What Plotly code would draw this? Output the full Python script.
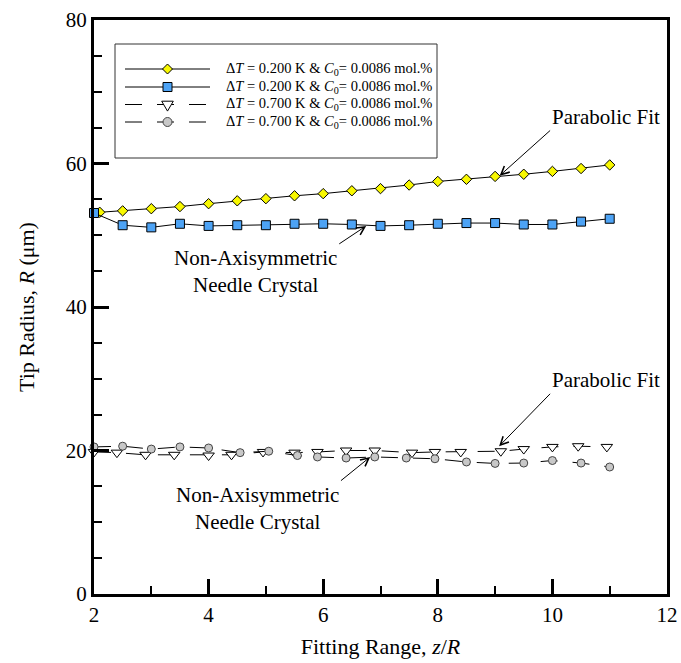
import plotly.graph_objects as go

# ---- data ----
x_dt02_parab = [2.1, 2.5, 3.0, 3.5, 4.0, 4.5, 5.0, 5.5, 6.0, 6.5, 7.0, 7.5, 8.0, 8.5, 9.0, 9.5, 10.0, 10.5, 11.0]
r_dt02_parab = [53.2, 53.4, 53.7, 54.0, 54.4, 54.8, 55.1, 55.5, 55.8, 56.2, 56.5, 57.0, 57.5, 57.8, 58.2, 58.5, 58.9, 59.3, 59.8]

x_dt02_needle = [2.0, 2.5, 3.0, 3.5, 4.0, 4.5, 5.0, 5.5, 6.0, 6.5, 7.0, 7.5, 8.0, 8.5, 9.0, 9.5, 10.0, 10.5, 11.0]
r_dt02_needle = [53.1, 51.4, 51.1, 51.6, 51.3, 51.4, 51.4, 51.6, 51.6, 51.5, 51.3, 51.4, 51.6, 51.7, 51.7, 51.5, 51.5, 51.9, 52.3]

x_dt07_parab = [2.0, 2.4, 2.9, 3.4, 4.0, 4.4, 4.95, 5.5, 5.9, 6.4, 6.9, 7.55, 7.95, 8.4, 9.1, 9.5, 10.0, 10.45, 10.95]
r_dt07_parab = [19.8, 19.7, 19.4, 19.4, 19.3, 19.4, 19.8, 19.7, 19.8, 20.0, 20.0, 19.7, 19.8, 19.8, 19.9, 20.2, 20.5, 20.6, 20.5]

x_dt07_needle = [2.0, 2.5, 3.0, 3.5, 4.0, 4.55, 5.05, 5.55, 5.9, 6.4, 6.9, 7.45, 7.95, 8.5, 9.0, 9.5, 10.0, 10.5, 11.0]
r_dt07_needle = [20.5, 20.6, 20.2, 20.5, 20.35, 19.7, 19.9, 19.3, 19.1, 18.95, 19.1, 18.95, 18.85, 18.4, 18.2, 18.25, 18.6, 18.25, 17.7]

legend_names = [
    "Δ<i>T</i> = 0.200 K &amp; <i>C</i><sub>0</sub>= 0.0086 mol.%",
    "Δ<i>T</i> = 0.200 K &amp; <i>C</i><sub>0</sub>= 0.0086 mol.%",
    "Δ<i>T</i> = 0.700 K &amp; <i>C</i><sub>0</sub>= 0.0086 mol.%",
    "Δ<i>T</i> = 0.700 K &amp; <i>C</i><sub>0</sub>= 0.0086 mol.%",
]

FONT = "Liberation Serif, Times New Roman, serif"
DASH = "17px,15px"

YELLOW = "#f8f800"
BLUE = "#4da3f5"
GRAY = "#c8c8c8"

fig = go.Figure()
fig.add_trace(go.Scatter(
    x=x_dt02_parab, y=r_dt02_parab, name=legend_names[0], mode="lines+markers",
    line=dict(color="black", width=1),
    marker=dict(symbol="diamond", size=8, color=YELLOW, line=dict(color="black", width=1)),
    cliponaxis=False, showlegend=False))
fig.add_trace(go.Scatter(
    x=x_dt02_needle, y=r_dt02_needle, name=legend_names[1], mode="lines+markers",
    line=dict(color="black", width=1),
    marker=dict(symbol="square", size=9, color=BLUE, line=dict(color="black", width=1)),
    cliponaxis=False, showlegend=False))
fig.add_trace(go.Scatter(
    x=x_dt07_parab, y=r_dt07_parab, name=legend_names[2], mode="lines+markers",
    line=dict(color="black", width=1, dash=DASH),
    marker=dict(symbol="triangle-down", size=10, color="white", line=dict(color="black", width=1)),
    cliponaxis=False, showlegend=False))
fig.add_trace(go.Scatter(
    x=x_dt07_needle, y=r_dt07_needle, name=legend_names[3], mode="lines+markers",
    line=dict(color="black", width=1, dash=DASH),
    marker=dict(symbol="circle", size=8, color=GRAY, line=dict(color="#444", width=1)),
    cliponaxis=False, showlegend=False))

# ---- annotations (text + arrows) ----
ann_font = dict(family=FONT, size=21, color="black")
arrow_kw = dict(xref="x", yref="y", axref="x", ayref="y", showarrow=True,
                arrowhead=5, arrowsize=1.6, arrowwidth=1, arrowcolor="black",
                standoff=0, font=ann_font)
annotations = [
    dict(x=9.08, y=58.3, ax=9.96, ay=64.6, text="Parabolic Fit",
         xanchor="left", yanchor="bottom", **arrow_kw),
    dict(x=6.75, y=51.3, ax=6.28, ay=48.8, text="Non-Axisymmetric<br>Needle Crystal",
         xanchor="right", yanchor="top", **arrow_kw),
    dict(x=9.07, y=20.6, ax=9.96, ay=27.9, text="Parabolic Fit",
         xanchor="left", yanchor="bottom", **arrow_kw),
    dict(x=6.82, y=19.1, ax=6.31, ay=15.8, text="Non-Axisymmetric<br>Needle Crystal",
         xanchor="right", yanchor="top", **arrow_kw),
]

# ---- hand-drawn legend (box, sample lines, glyphs, labels) in paper coords ----
L_PX, R_PX, T_PX, B_PX = 94.0, 667.0, 20.0, 594.0
def px(xp):
    return (xp - L_PX) / (R_PX - L_PX)
def py(yp):
    return (B_PX - yp) / (B_PX - T_PX)

shapes = [dict(type="rect", xref="paper", yref="paper",
               x0=px(115), x1=px(437), y0=py(158), y1=py(44),
               line=dict(color="#333", width=1), fillcolor="white", layer="above")]
rows_px = [69, 87, 104.5, 122]
dashes = ["solid", "solid", DASH, DASH]
mx = px(167.5)
for i, yp in enumerate(rows_px):
    yy = py(yp)
    shapes.append(dict(type="line", xref="paper", yref="paper", x0=px(125), x1=px(210),
                       y0=yy, y1=yy, line=dict(color="black", width=1, dash=dashes[i]),
                       layer="above"))
    annotations.append(dict(xref="paper", yref="paper", x=px(224), y=yy, text=legend_names[i],
                            showarrow=False, xanchor="left", yanchor="middle",
                            font=dict(family=FONT, size=14.5, color="black")))
glyphs = [
    dict(type="path", path="M-5,0 L0,5 L5,0 L0,-5 Z", fillcolor=YELLOW, line=dict(color="black", width=1)),
    dict(type="path", path="M-4.5,-4.5 L4.5,-4.5 L4.5,4.5 L-4.5,4.5 Z", fillcolor=BLUE, line=dict(color="black", width=1)),
    dict(type="path", path="M-5.8,3.3 L5.8,3.3 L0,-6.6 Z", fillcolor="white", line=dict(color="black", width=1)),
    dict(type="circle", x0=-4.5, x1=4.5, y0=-4.5, y1=4.5, fillcolor=GRAY, line=dict(color="#444", width=1)),
]
for i, g in enumerate(glyphs):
    g.update(xref="paper", yref="paper", xsizemode="pixel", ysizemode="pixel",
             xanchor=mx, yanchor=py(rows_px[i]), layer="above")
    shapes.append(g)

axis_common = dict(
    showgrid=False, zeroline=False, showline=True, linewidth=3, linecolor="black", mirror=True,
    ticks="inside", ticklen=15, tickwidth=3, tickcolor="black", automargin=False,
    tickfont=dict(family=FONT, size=21, color="black"),
)

fig.update_layout(
    width=681, height=663,
    margin=dict(l=94, r=14, t=20, b=69),
    paper_bgcolor="white", plot_bgcolor="white",
    font=dict(family=FONT, color="black"),
    showlegend=False,
    xaxis=dict(range=[2, 12], dtick=2, tick0=2,
               minor=dict(dtick=1, ticks="inside", ticklen=8, tickwidth=1.5, tickcolor="black"),
               title=dict(text="Fitting Range, <i>z</i>/<i>R</i>", font=dict(family=FONT, size=22), standoff=13),
               **axis_common),
    yaxis=dict(range=[0, 80], dtick=20, tick0=0,
               minor=dict(dtick=5, ticks="inside", ticklen=8, tickwidth=1.5, tickcolor="black"),
               title=dict(text="Tip Radius, <i>R</i> (μm)", font=dict(family=FONT, size=22), standoff=26),
               **axis_common),
    annotations=annotations,
    shapes=shapes,
)

fig.write_html("out.html", config={"displayModeBar": False},
               post_script="document.body.style.margin='0px';")
